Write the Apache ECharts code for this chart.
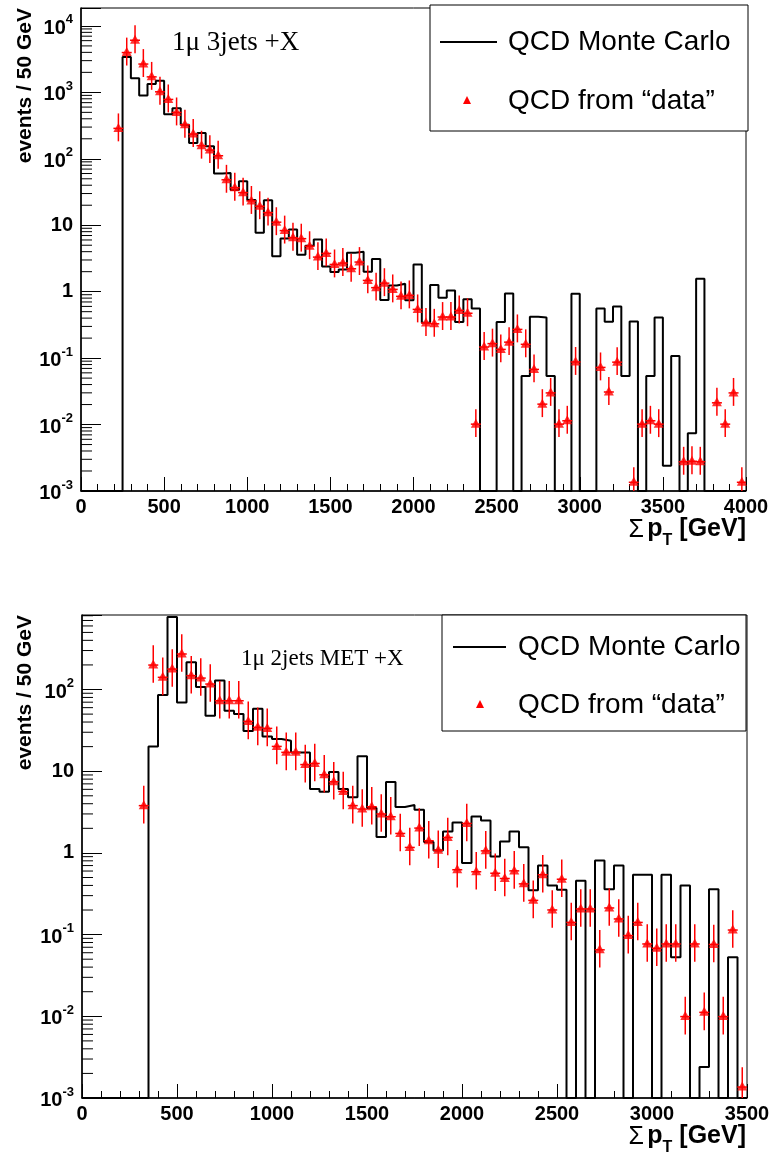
<!DOCTYPE html>
<html>
<head>
<meta charset="utf-8">
<script src="https://cdn.jsdelivr.net/npm/echarts@6/dist/echarts.min.js"></script>
<style>
html, body { margin: 0; padding: 0; background: #fff; }
#chart { width: 776px; height: 1157px; }
</style>
</head>
<body>
<div id="chart"></div>
<script>
var binWidth = 50;
var yMin = 0.001;

// upper pad: 1mu 3jets +X, 80 bins of 50 GeV
var mcTop = [
  0, 0, 0, 0, 0, 3400, 1630, 900, 1330, 1490,
  470, 575, 326, 173, 244, 154, 60, 61, 34, 46,
  24, 7.7, 23.8, 3.4, 6.3, 8.6, 3.6, 4.9, 6.1, 2.4,
  1.97, 2.16, 3.85, 4.0, 2.0, 3.1, 0.75, 1.24, 1.32, 0.74,
  2.57, 0.34, 1.26, 0.81, 1.04, 0.35, 0.77, 0.56, 0, 0,
  0.35, 0.94, 0, 0.054, 0.42, 0.41, 0.054, 0, 0, 0.93,
  0, 0, 0.56, 0.354, 0.60, 0.054, 0.355, 0, 0.054, 0.41,
  0.0024, 0.108, 0, 0.0074, 1.57, 0, 0, 0, 0, 0
];
var dataTop = [
  null, null, null, null, 297, 4110, 6300, 2760, 1770, 1055,
  810, 516, 337, 244, 163, 140, 115, 50, 38, 32,
  24, 20, 16, 11.5, 8.6, 6.7, 6.5, 5.0, 3.43, 3.9,
  2.66, 2.79, 2.29, 2.89, 1.53, 1.19, 1.39, 1.12, 0.88, 0.91,
  0.56, 0.35, 0.34, 0.43, 0.43, 0.54, 0.49, 0.0105, 0.152, 0.171,
  0.14, 0.18, 0.28, 0.167, 0.070, 0.021, 0.031, 0.0105, 0.0118, 0.0906,
  null, null, 0.075, 0.032, 0.09, null, 0.0014, 0.0105, 0.0118, 0.0105,
  null, null, 0.00285, 0.0029, 0.00285, null, 0.022, 0.0105, 0.031, 0.0014
];
var errTop = 0.21; // half length of the error bars, in decades

// lower pad: 1mu 2jets MET +X, 70 bins of 50 GeV
var mcBot = [
  0, 0, 0, 0, 0, 0, 0, 20.1, 86, 771,
  69.5, 215, 107, 47.7, 129, 55, 50, 31, 58, 26.7,
  24.8, 23.6, 17, 17, 6.05, 5.6, 9.8, 6.05, 4.8, 15.2,
  3.54, 1.57, 7.4, 3.65, 3.86, 3.38, 1.36, 1.07, 1.83, 2.36,
  0.75, 2.8, 2.5, 0.905, 1.38, 1.83, 1.17, 0.35, 0.70, 0.40,
  0.355, 0, 0.457, 0, 0.81, 0.36, 0.70, 0, 0.54, 0.54,
  0, 0.54, 0.053, 0.40, 0, 0.0024, 0.36, 0, 0.053, 0
];
var dataBot = [
  null, null, null, null, null, null, 3.9, 205, 145, 183,
  280, 152, 142, 120, 75, 75, 75, 41.9, 35.4, 34.4,
  20.7, 17.5, 17.5, 12.4, 12.8, 9.3, 7.65, 5.8, 3.9, 3.54,
  3.78, 3.08, 2.85, 1.78, 1.2, 2.07, 1.45, 1.11, 1.59, 0.64,
  2.36, 0.605, 1.09, 0.58, 0.50, 0.62, 0.43, 0.27, 0.556, 0.206,
  0.49, 0.145, 0.212, 0.212, 0.067, 0.218, 0.16, 0.1, 0.145, 0.079,
  0.07, 0.079, 0.079, 0.0102, 0.079, 0.0115, 0.078, 0.0102, 0.117, 0.0014
];
var errBot = 0.23;

var sans = '"Liberation Sans", Arial, sans-serif';
var serif = '"Liberation Serif", "Times New Roman", serif';
var red = '#ff0000';

// histogram outline: left bin edges + closing right edge, empty bins sit on the floor
function histLine(vals) {
  var pts = vals.map(function (v, i) { return [i * binWidth, v > 0 ? v : yMin]; });
  var last = vals[vals.length - 1];
  pts.push([vals.length * binWidth, last > 0 ? last : yMin]);
  return pts;
}
function points(vals) {
  var out = [];
  vals.forEach(function (v, i) {
    if (v != null) out.push([i * binWidth + binWidth / 2, v]);
  });
  return out;
}

function logLabel(v) {
  var l = Math.log10(v), e = Math.round(l);
  if (Math.abs(l - e) > 1e-6) return '';
  if (e === 0) return '1';
  if (e === 1) return '10';
  return '{b|10}{s|' + e + '}';
}

function xAxisCfg(idx, max) {
  return {
    type: 'value', gridIndex: idx, min: 0, max: max, interval: 500,
    axisLine: { show: true, onZero: false, lineStyle: { color: '#000', width: 1.5 } },
    axisTick: { show: true, inside: true, length: 14, lineStyle: { color: '#000', width: 1 } },
    minorTick: { show: true, splitNumber: 5, length: 7, lineStyle: { color: '#000', width: 1 } },
    splitLine: { show: false },
    axisLabel: {
      formatter: function (v) { return String(v); },
      color: '#000', fontSize: 20, fontWeight: 'bold', fontFamily: sans, margin: 6,
      showMinLabel: true, showMaxLabel: true
    }
  };
}
function yAxisCfg(idx, max) {
  return {
    type: 'log', logBase: 10, gridIndex: idx, min: yMin, max: max,
    axisLine: { show: true, onZero: false, lineStyle: { color: '#000', width: 1.5 } },
    axisTick: { show: true, inside: true, length: 20, lineStyle: { color: '#000', width: 1 } },
    splitLine: { show: false },
    axisLabel: {
      formatter: logLabel, color: '#000', fontSize: 20, fontWeight: 'bold', fontFamily: sans, margin: 8,
      showMinLabel: true, showMaxLabel: true,
      rich: {
        b: { fontSize: 20, fontWeight: 'bold', fontFamily: sans, color: '#000', padding: [5, 0, 0, 0] },
        s: { fontSize: 13, fontWeight: 'bold', fontFamily: sans, color: '#000', verticalAlign: 'top' }
      }
    }
  };
}

function minorTicks(idx, maxV) {
  var vals = [];
  for (var e = -3; e <= 4; e++) {
    for (var m = 2; m <= 9; m++) {
      var v = m * Math.pow(10, e);
      if (v < maxV) vals.push([0, v]);
    }
  }
  return {
    type: 'custom', xAxisIndex: idx, yAxisIndex: idx, silent: true, z: 1, data: vals,
    renderItem: function (params, api) {
      var p = api.coord([0, api.value(1)]);
      return { type: 'line', shape: { x1: p[0], y1: p[1], x2: p[0] + 11, y2: p[1] },
        style: { stroke: '#000', lineWidth: 1 } };
    }
  };
}

function mcSeries(idx, vals) {
  return {
    name: 'QCD Monte Carlo', type: 'line', xAxisIndex: idx, yAxisIndex: idx,
    step: 'end', symbol: 'none', z: 2, data: histLine(vals),
    lineStyle: { color: '#000', width: 2 }
  };
}
function errSeries(idx, vals, dex) {
  return {
    type: 'custom', xAxisIndex: idx, yAxisIndex: idx, clip: true, silent: true, z: 3,
    data: points(vals),
    renderItem: function (params, api) {
      var x = api.value(0), v = api.value(1), f = Math.pow(10, dex);
      var hi = api.coord([x, v * f]), lo = api.coord([x, v / f]), c = api.coord([x, v]);
      return { type: 'group', children: [
        { type: 'line', shape: { x1: hi[0], y1: hi[1], x2: lo[0], y2: lo[1] }, style: { stroke: red, lineWidth: 1.5 } },
        { type: 'line', shape: { x1: c[0] - 5, y1: c[1] + 1, x2: c[0] + 5, y2: c[1] + 1 }, style: { stroke: red, lineWidth: 1.5 } }
      ] };
    }
  };
}
function dataSeries(idx, vals) {
  return {
    name: 'QCD from \u201cdata\u201d', type: 'scatter', xAxisIndex: idx, yAxisIndex: idx,
    symbol: 'triangle', symbolSize: [10, 9], z: 4, data: points(vals),
    itemStyle: { color: red }
  };
}

function legendBox(x, y, w, h, lineX1, lineX2, triX, textX, row1, row2) {
  return [
    { type: 'rect', z: 20, shape: { x: x, y: y, width: w, height: h }, style: { fill: '#fff', stroke: '#000', lineWidth: 1 } },
    { type: 'line', z: 21, shape: { x1: lineX1, y1: row1, x2: lineX2, y2: row1 }, style: { stroke: '#000', lineWidth: 2 } },
    { type: 'text', z: 21, x: textX, y: row1, style: { text: 'QCD Monte Carlo', fontSize: 28, fontFamily: sans, fill: '#000', align: 'left', verticalAlign: 'middle' } },
    { type: 'polygon', z: 21, shape: { points: [[triX, row2 - 5], [triX - 4, row2 + 3], [triX + 4, row2 + 3]] }, style: { fill: red } },
    { type: 'text', z: 21, x: textX, y: row2, style: { text: 'QCD from \u201cdata\u201d', fontSize: 28, fontFamily: sans, fill: '#000', align: 'left', verticalAlign: 'middle' } }
  ];
}

// x axis title: sigma, then p with subscript T, then unit
function axisTitle(y) {
  return { type: 'text', x: 746, y: y, style: {
    text: '{g|\u03a3} {a|p}{t|T}{a| [GeV]}', align: 'right', verticalAlign: 'middle',
    rich: {
      g: { fontSize: 25, fontFamily: sans, color: '#000', padding: [0, 0, 6, 0] },
      a: { fontSize: 25, fontWeight: 'bold', fontFamily: sans, color: '#000', padding: [0, 0, 7, 0] },
      t: { fontSize: 16, fontWeight: 'bold', fontFamily: sans, color: '#000', verticalAlign: 'bottom' }
    } } };
}

var graphics = [].concat(
  legendBox(430, 5, 318, 126, 440, 497, 467, 508, 42, 101),
  legendBox(442, 615, 304, 116, 453, 506, 480, 518, 647, 705),
  [
    axisTitle(533),
    axisTitle(1140),
    { type: 'text', x: 172, y: 43, style: { text: '1\u03bc 3jets +X', fontSize: 27, fontFamily: serif, fill: '#000', align: 'left', verticalAlign: 'middle' } },
    { type: 'text', x: 241, y: 659, style: { text: '1\u03bc 2jets MET +X', fontSize: 23, fontFamily: serif, fill: '#000', align: 'left', verticalAlign: 'middle' } },
    { type: 'text', x: 25, y: 8, rotation: Math.PI / 2, style: { text: 'events / 50 GeV', fontSize: 21, fontWeight: 'bold', fontFamily: sans, fill: '#000', align: 'right', verticalAlign: 'middle' } },
    { type: 'text', x: 25, y: 615, rotation: Math.PI / 2, style: { text: 'events / 50 GeV', fontSize: 21, fontWeight: 'bold', fontFamily: sans, fill: '#000', align: 'right', verticalAlign: 'middle' } }
  ]
);

var option = {
  animation: false,
  backgroundColor: '#fff',
  textStyle: { fontFamily: sans },
  grid: [
    { left: 81, top: 8, width: 665, height: 483, show: true, borderColor: '#000', borderWidth: 1, backgroundColor: '#fff' },
    { left: 82, top: 615, width: 665, height: 483, show: true, borderColor: '#000', borderWidth: 1, backgroundColor: '#fff' }
  ],
  xAxis: [xAxisCfg(0, 4000), xAxisCfg(1, 3500)],
  yAxis: [yAxisCfg(0, 18600), yAxisCfg(1, 817)],
  series: [
    minorTicks(0, 18600),
    minorTicks(1, 817),
    mcSeries(0, mcTop),
    errSeries(0, dataTop, errTop),
    dataSeries(0, dataTop),
    mcSeries(1, mcBot),
    errSeries(1, dataBot, errBot),
    dataSeries(1, dataBot)
  ],
  graphic: graphics
};

var chart = echarts.init(document.getElementById('chart'));
chart.setOption(option);
window.addEventListener('resize', function () { chart.resize(); });
</script>
</body>
</html>
